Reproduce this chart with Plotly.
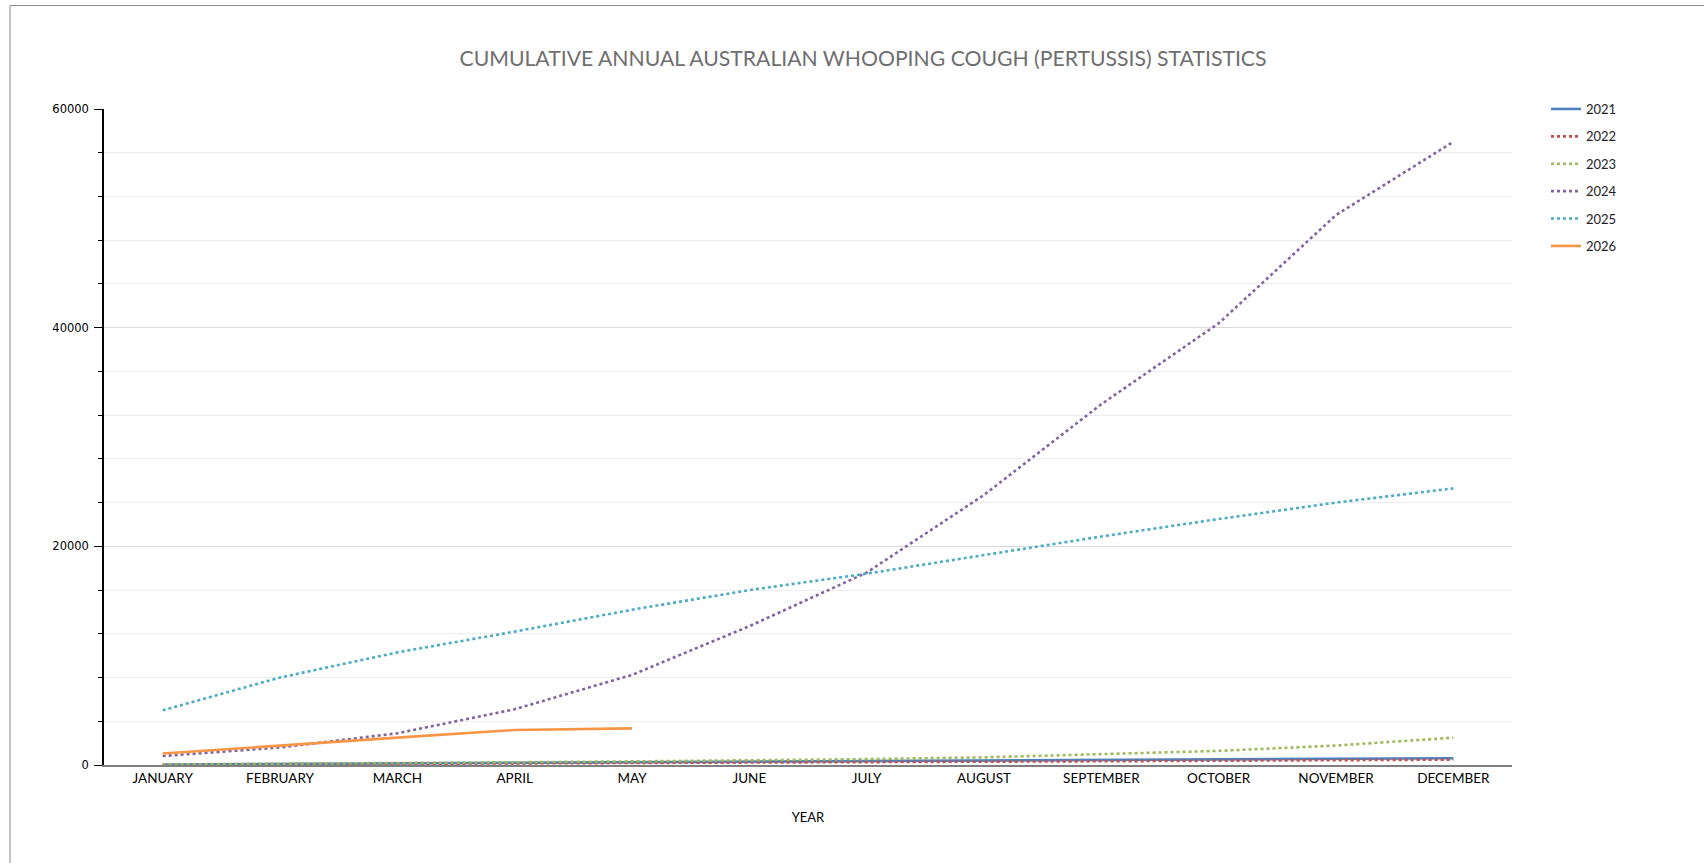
import plotly.graph_objects as go

months = ["JANUARY", "FEBRUARY", "MARCH", "APRIL", "MAY", "JUNE", "JULY",
          "AUGUST", "SEPTEMBER", "OCTOBER", "NOVEMBER", "DECEMBER"]

y2021 = [40, 90, 140, 190, 240, 290, 330, 380, 430, 490, 550, 620]
y2022 = [30, 60, 100, 140, 180, 220, 260, 300, 340, 390, 440, 490]
y2023 = [50, 100, 170, 250, 330, 430, 540, 700, 970, 1290, 1780, 2500]
y2024 = [820, 1600, 2900, 5100, 8240, 12700, 17600, 24700, 33000, 40400, 50300, 57000]
y2025 = [5000, 8000, 10300, 12200, 14200, 16000, 17500, 19200, 20900, 22500, 24000, 25300]
y2026 = [1050, 1800, 2500, 3200, 3350]

series = [
    ("2021", y2021, "#4F81BD", "solid"),
    ("2022", y2022, "#C0504D", "dot"),
    ("2023", y2023, "#9BBB59", "dot"),
    ("2024", y2024, "#8064A2", "dot"),
    ("2025", y2025, "#4BACC6", "dot"),
    ("2026", y2026, "#F79646", "solid"),
]

W, H = 1704, 863
L, R, T, B = 104, 1512, 109, 765

fig = go.Figure()
for name, vals, color, dash in series:
    fig.add_trace(go.Scatter(
        x=months[:len(vals)], y=vals, name=name, mode="lines",
        line=dict(color=color, width=2.6, dash=dash),
        legendgroup=name,
    ))

pw = R - L
ph = B - T
# outer chart frame
fig.add_shape(type="line", xref="paper", yref="paper",
              x0=(10 - L) / pw, x1=(W + 20 - L) / pw,
              y0=(B - 5.5) / ph, y1=(B - 5.5) / ph,
              line=dict(color="#8C8C8C", width=1))
fig.add_shape(type="line", xref="paper", yref="paper",
              x0=(10 - L) / pw, x1=(10 - L) / pw,
              y0=(B - 5.5) / ph, y1=(B - H - 20) / ph,
              line=dict(color="#8C8C8C", width=1))

fig.update_layout(
    width=W, height=H,
    margin=dict(l=L, r=W - R, t=T, b=H - B),
    paper_bgcolor="white", plot_bgcolor="white",
    font=dict(family="Lato, Open Sans, sans-serif", color="#000000", size=12),
    title=dict(text="CUMULATIVE ANNUAL AUSTRALIAN WHOOPING COUGH (PERTUSSIS) STATISTICS",
               x=863 / W, xanchor="center", y=1 - 59 / H, yanchor="middle",
               font=dict(family="Lato, sans-serif", size=21.2, color="#6E6E6E")),
    legend=dict(x=(1546 - L) / pw, xanchor="left", y=1 + 15 / ph, yanchor="top",
                font=dict(family="Lato, sans-serif", size=13, color="#222222"),
                tracegroupgap=7.5, itemwidth=30, bgcolor="rgba(0,0,0,0)"),
    showlegend=True,
)

fig.update_xaxes(
    type="category", categoryorder="array", categoryarray=months,
    range=[-0.5, 11.5],
    showline=True, linecolor="#7F7F7F", linewidth=1.5,
    ticks="", showgrid=False, zeroline=False,
    tickfont=dict(family="Lato, sans-serif", size=13.5, color="#000000"),
    title=dict(text="YEAR", font=dict(family="Lato, sans-serif", size=13, color="#000000"),
               standoff=28),
)

fig.update_yaxes(
    range=[0, 60000], dtick=20000, tick0=0, tickformat="d",
    showline=True, linecolor="#000000", linewidth=1.5,
    ticks="outside", ticklen=8, tickcolor="#000000", tickwidth=1,
    showgrid=True, gridcolor="#D9D9D9", gridwidth=1,
    zeroline=False,
    minor=dict(dtick=4000, showgrid=True, gridcolor="#EDEDED", gridwidth=1,
               ticks="outside", ticklen=4, tickcolor="#000000"),
    tickfont=dict(family="DejaVu Sans, sans-serif", size=11.5, color="#000000"),
    ticklabelstandoff=3,
)

fig.write_html("out.html", config={"displayModeBar": False},
               post_script="document.body.style.margin='0';")
